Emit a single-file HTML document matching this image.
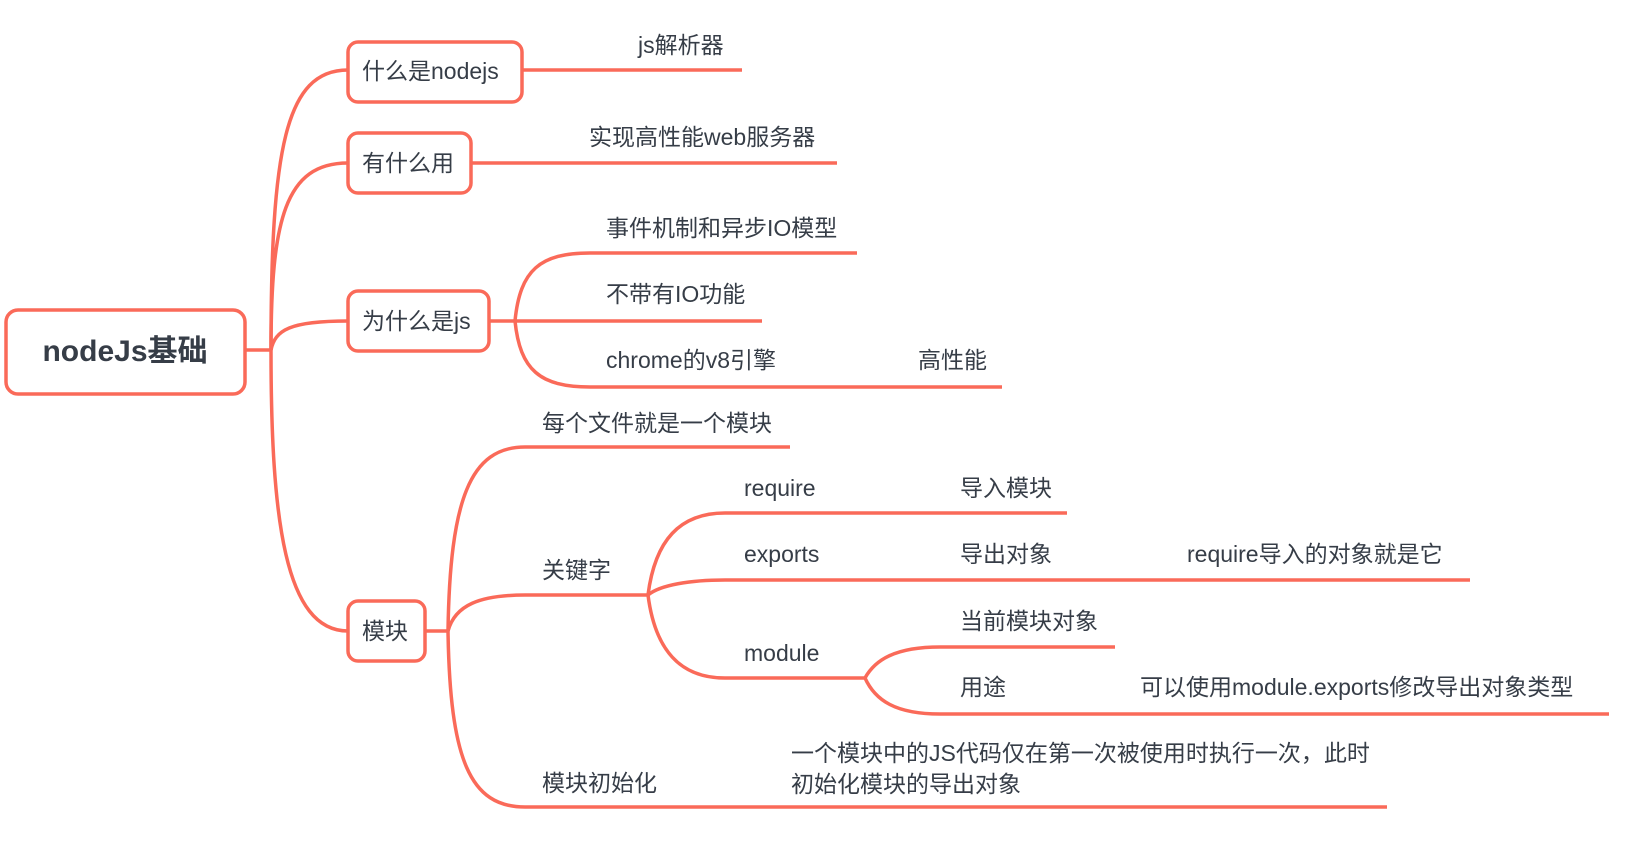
<!DOCTYPE html>
<html><head><meta charset="utf-8"><style>
html,body{margin:0;padding:0;background:#fff;}
svg{display:block;}
text{font-family:"Liberation Sans","Noto Sans CJK SC",sans-serif;font-size:23px;fill:#363d47;}
</style></head><body>
<svg width="1640" height="856" viewBox="0 0 1640 856" xmlns="http://www.w3.org/2000/svg">
<g fill="none" stroke="#fa6a59" stroke-width="3.5" stroke-linecap="butt">
<path d="M245 350 H271"/>
<path d="M271 350 C271 150 285 70 348 70"/>
<path d="M271 350 C271 220 285 163 348 163"/>
<path d="M271 350 C275 330 290 321 348 321"/>
<path d="M271 350 C271 520 285 631 348 631"/>
<path d="M522 70 H742"/>
<path d="M471 163 H837"/>
<path d="M489 321 H515"/>
<path d="M515 321 C520 270 540 253 590 253 H857"/>
<path d="M515 321 H762"/>
<path d="M515 321 C520 370 540 387 590 387 H1002"/>
<path d="M425 631 H448"/>
<path d="M448 631 C450 500 470 447 525 447 H790"/>
<path d="M448 631 C455 605 480 595 525 595 H648"/>
<path d="M448 631 C450 760 470 807 525 807 H1387"/>
<path d="M648 595 C655 540 680 513 725 513 H1067"/>
<path d="M648 595 C660 585 690 580 725 580 H1470"/>
<path d="M648 595 C655 650 680 678 725 678 H865"/>
<path d="M865 678 C875 660 895 647 940 647 H1115"/>
<path d="M865 678 C875 700 895 714 940 714 H1609"/>
<rect x="6" y="310" width="239" height="84" rx="12" fill="#fff"/>
<rect x="348" y="42" width="174" height="60" rx="10" fill="#fff"/>
<rect x="348" y="133" width="123" height="60" rx="10" fill="#fff"/>
<rect x="348" y="291" width="141" height="60" rx="10" fill="#fff"/>
<rect x="348" y="601" width="77" height="60" rx="10" fill="#fff"/>
</g>
<text x="125" y="361" text-anchor="middle" style="font-size:30px;font-weight:bold">nodeJs基础</text>
<text x="362" y="79">什么是nodejs</text>
<text x="362" y="171">有什么用</text>
<text x="362" y="329">为什么是js</text>
<text x="362" y="639">模块</text>
<text x="638" y="53">js解析器</text>
<text x="589" y="145">实现高性能web服务器</text>
<text x="606" y="236">事件机制和异步IO模型</text>
<text x="606" y="302">不带有IO功能</text>
<text x="606" y="368">chrome的v8引擎</text>
<text x="918" y="368">高性能</text>
<text x="542" y="431">每个文件就是一个模块</text>
<text x="542" y="578">关键字</text>
<text x="542" y="791">模块初始化</text>
<text x="791" y="761">一个模块中的JS代码仅在第一次被使用时执行一次，此时</text>
<text x="791" y="792">初始化模块的导出对象</text>
<text x="744" y="496">require</text>
<text x="960" y="496">导入模块</text>
<text x="744" y="562">exports</text>
<text x="960" y="562">导出对象</text>
<text x="1187" y="562">require导入的对象就是它</text>
<text x="744" y="661">module</text>
<text x="960" y="629">当前模块对象</text>
<text x="960" y="695">用途</text>
<text x="1140" y="695">可以使用module.exports修改导出对象类型</text>
</svg>
</body></html>
